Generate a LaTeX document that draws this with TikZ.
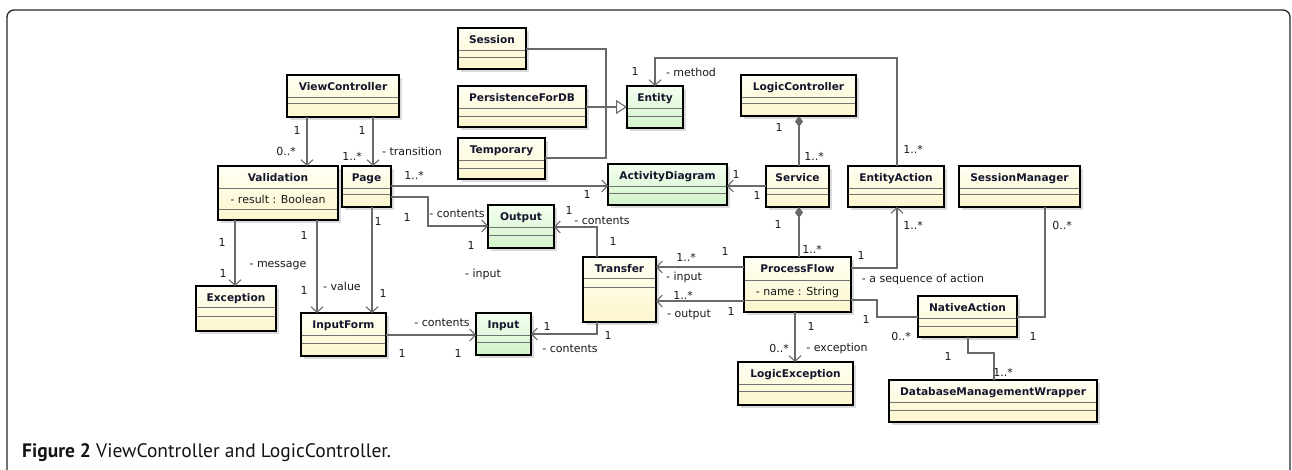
\documentclass[tikz,border=0pt]{standalone}
\usepackage{fontspec}
\setmainfont{DejaVu Sans}
\newfontfamily\capfont{PT Sans}
\usetikzlibrary{arrows.meta,shadows}
\definecolor{clsA}{RGB}{255,255,244}
\definecolor{clsB}{RGB}{252,246,204}
\definecolor{entA}{RGB}{244,255,240}
\definecolor{entB}{RGB}{210,243,202}
\definecolor{conn}{RGB}{105,105,105}
\definecolor{txt}{RGB}{25,25,25}
\definecolor{ttlc}{RGB}{22,22,45}
\tikzset{
 cls/.style={draw=black, line width=2.8pt, outer sep=0pt, inner sep=0pt, top color=clsA, bottom color=clsB,
   drop shadow={shadow xshift=3pt, shadow yshift=-3pt, fill=black!14, opacity=1}},
 ent/.style={cls, top color=entA, bottom color=entB},
 cmp/.style={draw=black!55, line width=0.8pt},
 ttl/.style={font=\bfseries\fontsize{10.6}{12}\selectfont, text=ttlc, inner sep=0pt, anchor=base},
 attr/.style={font=\fontsize{11}{13}\selectfont, text=txt, inner sep=0pt, anchor=base},
 lbl/.style={font=\fontsize{11}{13}\selectfont, text=txt, inner sep=0pt},
 assoc/.style={draw=conn, line width=1.1pt},
 nav/.style={assoc, -{Straight Barb[length=5.5pt,width=12pt,line width=1.1pt]}},
 comp/.style={assoc, {Diamond[length=11pt,width=8pt,fill=conn]}-},
 gen/.style={assoc, -{Triangle[open,length=11pt,width=14pt,fill=white]}},
}
\newcounter{lbc}
\newcommand\umlclass[9]{%
  \node[#7, minimum width=#4pt, minimum height=#5pt, anchor=north west] (#1) at (#2,#3) {};
  \draw[cmp] ([xshift=1.4pt,yshift=-#8pt]#1.north west) -- ([xshift=-1.4pt,yshift=-#8pt]#1.north east);
  \draw[cmp] ([xshift=1.4pt,yshift=-#9pt]#1.north west) -- ([xshift=-1.4pt,yshift=-#9pt]#1.north east);
  \node[ttl] (#1t) at ([yshift=-15.5pt]#1.north) {#6};
}
\newcommand\lab[2]{\stepcounter{lbc}\node[lbl] (lb\arabic{lbc}) at (#1) {#2};}
\begin{document}
\begin{tikzpicture}[x=1pt,y=-1pt]
\useasboundingbox (0,0) rectangle (1292,470);
\draw[line width=1.3pt, black!85, rounded corners=7pt] (7,472) -- (7,10) -- (1290,10) -- (1290,472);

% classes
\umlclass{vc}{287}{75}{112}{42}{ViewController}{cls}{22}{28}
\umlclass{val}{218}{166}{120}{54}{Validation}{cls}{22}{43}
\umlclass{page}{342}{166}{49}{41}{Page}{cls}{22}{28}
\umlclass{exc}{196}{286}{80}{45}{Exception}{cls}{21}{30}
\umlclass{ifm}{301}{313}{85}{43}{InputForm}{cls}{22}{30}
\umlclass{inp}{476}{313}{55}{42}{Input}{ent}{22}{29}
\umlclass{ses}{458}{28}{68}{41}{Session}{cls}{22}{29}
\umlclass{pdb}{458}{86}{128}{41}{PersistenceForDB}{cls}{22}{30}
\umlclass{tmp}{458}{138}{87}{41}{Temporary}{cls}{22}{30}
\umlclass{ent}{627}{86}{56}{42}{Entity}{ent}{22}{30}
\umlclass{ad}{608}{164}{119}{41}{ActivityDiagram}{ent}{22}{29}
\umlclass{out}{488}{205}{66}{43}{Output}{ent}{22}{30}
\umlclass{trf}{583}{257}{73}{65}{Transfer}{cls}{21}{30}
\umlclass{lc}{741}{75}{115}{41}{LogicController}{cls}{22}{28}
\umlclass{svc}{766}{166}{63}{41}{Service}{cls}{22}{28}
\umlclass{ea}{848}{166}{96}{41}{EntityAction}{cls}{22}{28}
\umlclass{sm}{959}{166}{121}{41}{SessionManager}{cls}{22}{28}
\umlclass{pf}{744}{257}{107}{55}{ProcessFlow}{cls}{23}{43}
\umlclass{lex}{738}{362}{115}{43}{LogicException}{cls}{22}{29}
\umlclass{na}{918}{296}{99}{41}{NativeAction}{cls}{22}{30}
\umlclass{dmw}{889}{380}{208}{42}{DatabaseManagementWrapper}{cls}{22}{30}
\node[attr] (vala) at ([yshift=-37.5pt]val.north) {- result : Boolean};
\node[attr] (pfa) at ([yshift=-38.5pt]pf.north) {- name : String};

% connectors
\draw[nav] ([xshift=20pt]vc.south west) -- ([xshift=89pt]val.north west);
\draw[nav] ([xshift=86pt]vc.south west) -- ([xshift=31pt]page.north west);
\draw[nav] ([yshift=-20pt]page.north east) -- ([yshift=-22pt]ad.north west);
\draw[nav] ([yshift=-31pt]page.north east) -- ++(37,0) |- ([yshift=-21pt]out.north west);
\draw[nav] ([xshift=17pt]val.south west) -- ([xshift=39pt]exc.north west);
\draw[nav] ([xshift=99pt]val.south west) -- ([xshift=16pt]ifm.north west);
\draw[nav] ([xshift=30pt]page.south west) -- ([xshift=71pt]ifm.north west);
\draw[nav] ([yshift=-22pt]ifm.north east) -- ([yshift=-22pt]inp.north west);
\draw[nav] ([xshift=14pt]trf.north west) |- ([yshift=-22pt]out.north east);
\draw[nav] ([xshift=14pt]trf.south west) |- ([yshift=-21pt]inp.north east);
\draw[nav] ([yshift=-10pt]pf.north west) -- ([yshift=-10pt]trf.north east);
\draw[nav] ([yshift=-44pt]pf.north west) -- ([yshift=-44pt]trf.north east);
\draw[nav] ([yshift=-20pt]svc.north west) -- ([yshift=-22pt]ad.north east);
\draw[comp] ([xshift=58pt]lc.south west) -- ([xshift=33pt]svc.north west);
\draw[comp] ([xshift=33pt]svc.south west) -- ([xshift=55pt]pf.north west);
\draw[nav] ([yshift=-11pt]pf.north east) -| ([xshift=49pt]ea.south west);
\draw[assoc] ([yshift=-43pt]pf.north east) -- ++(26,0) |- ([yshift=-21pt]na.north west);
\draw[nav] ([xshift=51pt]pf.south west) -- ([xshift=57pt]lex.north west);
\draw[nav] ([xshift=49pt]ea.north west) -- ++(0,-108) -| ([xshift=28pt]ent.north west);
\coordinate (gj) at (606,107);
\draw[assoc] ([yshift=-21pt]ses.north east) -| (gj);
\draw[assoc] ([yshift=-20pt]tmp.north east) -| (gj);
\draw[gen] ([yshift=-21pt]pdb.north east) -- ([yshift=-21pt]ent.north west);
\draw[assoc] ([yshift=-21pt]na.north east) -| ([xshift=86pt]sm.south west);
\draw[assoc] ([xshift=50pt]na.south west) -- ++(0,16) -| ([xshift=105pt]dmw.north west);

% labels
\lab{297,130}{1}
\lab{286,151}{0..*}
\lab{362,130}{1}
\lab{352,156}{1..*}
\lab{412,151}{- transition}
\lab{414,175}{1..*}
\lab{407,217}{1}
\lab{457,214}{- contents}
\lab{378,221}{1}
\lab{471,245}{1}
\lab{222,242}{1}
\lab{223,273}{1}
\lab{278,266}{- message}
\lab{304,235}{1}
\lab{304,290}{1}
\lab{342,286}{- value}
\lab{383,293}{1}
\lab{442,323}{- contents}
\lab{402,353}{1}
\lab{458,353}{1}
\lab{483,274}{- input}
\lab{635,71}{1}
\lab{691,72}{- method}
\lab{587,194}{1}
\lab{736,174}{1}
\lab{757,195}{1}
\lab{569,210}{1}
\lab{602,221}{- contents}
\lab{613,241}{1}
\lab{686,257}{1..*}
\lab{725,251}{1}
\lab{684,277}{- input}
\lab{683,295}{1..*}
\lab{731,311}{1}
\lab{689,315}{- output}
\lab{547,326}{1}
\lab{608,335}{1}
\lab{570,349}{- contents}
\lab{779,127}{1}
\lab{814,156}{1..*}
\lab{913,149}{1..*}
\lab{778,224}{1}
\lab{812,249}{1..*}
\lab{913,225}{1..*}
\lab{861,255}{1}
\lab{923,279}{- a sequence of action}
\lab{866,319}{1}
\lab{901,336}{0..*}
\lab{811,326}{1}
\lab{779,348}{0..*}
\lab{837,348}{- exception}
\lab{1033,336}{1}
\lab{1062,225}{0..*}
\lab{948,356}{1}
\lab{1003,372}{1..*}

% caption
\node[anchor=base west, inner sep=0pt, font=\capfont\fontsize{19.5}{22}\selectfont, text=black!92] (cap) at (22,457) {\textbf{Figure 2} ViewController and LogicController.};
\end{tikzpicture}
\end{document}
